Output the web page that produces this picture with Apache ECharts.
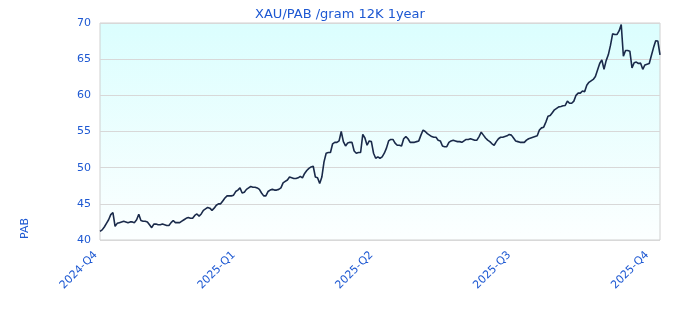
<!DOCTYPE html>
<html>
<head>
<meta charset="utf-8">
<script src="https://cdn.jsdelivr.net/npm/echarts@6/dist/echarts.min.js"></script>
<style>html,body{margin:0;padding:0;background:#fff}#c{width:680px;height:320px}</style>
</head>
<body>
<div id="c"></div>
<script>
var titleText = 'XAU/PAB /gram 12K 1year';
var yAxisName = 'PAB';
var tickLabels = ['2024-Q4', '2025-Q1', '2025-Q2', '2025-Q3', '2025-Q4'];
var labelEvery = 64;
var prices = [
41.2,41.4,41.8,42.3,42.8,43.5,43.8,41.9,42.3,42.4,
42.5,42.6,42.5,42.4,42.5,42.5,42.4,42.8,43.55,42.7,
42.6,42.6,42.5,42.1,41.7,42.2,42.2,42.1,42.1,42.2,
42.1,42.0,42.0,42.4,42.7,42.4,42.4,42.4,42.6,42.8,
43.0,43.1,43.0,43.0,43.4,43.6,43.3,43.6,44.1,44.3,
44.5,44.4,44.1,44.4,44.8,45.0,45.0,45.4,45.8,46.1,
46.1,46.1,46.2,46.7,46.9,47.2,46.5,46.6,47.0,47.2,
47.4,47.3,47.3,47.2,47.0,46.5,46.1,46.1,46.7,46.9,
47.0,46.9,46.9,47.0,47.2,47.9,48.1,48.3,48.7,48.6,
48.5,48.5,48.6,48.8,48.6,49.2,49.6,49.9,50.1,50.2,
48.7,48.6,47.8,48.7,50.8,52.0,52.1,52.1,53.3,53.5,
53.5,53.7,55.0,53.6,53.0,53.4,53.5,53.5,52.3,52.0,
52.1,52.1,54.6,54.1,53.1,53.7,53.6,52.0,51.3,51.5,
51.3,51.5,52.0,52.7,53.7,53.9,53.9,53.4,53.1,53.1,
53.0,54.0,54.3,54.0,53.5,53.5,53.5,53.6,53.7,54.5,
55.2,55.0,54.7,54.5,54.3,54.2,54.2,53.8,53.7,53.0,
52.9,52.9,53.5,53.7,53.8,53.7,53.6,53.6,53.5,53.7,
53.9,53.9,54.0,53.9,53.8,53.8,54.3,54.9,54.5,54.1,
53.8,53.6,53.3,53.1,53.6,54.0,54.2,54.2,54.3,54.4,
54.6,54.5,54.1,53.7,53.6,53.5,53.5,53.5,53.8,54.0,
54.1,54.2,54.3,54.4,55.2,55.5,55.6,56.3,57.1,57.2,
57.6,58.0,58.2,58.4,58.45,58.55,58.6,59.2,58.9,58.9,
59.2,60.0,60.3,60.3,60.6,60.5,61.4,61.8,62.0,62.2,
62.6,63.5,64.4,64.9,63.6,64.8,65.6,66.9,68.5,68.4,
68.4,68.9,69.8,65.4,66.2,66.2,66.1,63.8,64.5,64.6,
64.4,64.45,63.6,64.2,64.3,64.4,65.5,66.6,67.55,67.5,
65.6
];
var categories = prices.map(function (v, i) { return String(i); });

var blue = '#1d58d2';
var chart = echarts.init(document.getElementById('c'), null, {renderer: 'canvas'});
chart.setOption({
  animation: false,
  textStyle: {fontFamily: 'DejaVu Sans'},
  title: {
    text: titleText, left: 'center', top: 3,
    textStyle: {color: blue, fontSize: 13, fontWeight: 'normal', fontFamily: 'DejaVu Sans'}
  },
  graphic: [{
    type: 'text', x: 20, y: 239, rotation: Math.PI / 2,
    style: {text: yAxisName, fill: blue, font: '11px "DejaVu Sans"', textAlign: 'left', textVerticalAlign: 'top'}
  }],
  grid: {
    left: 100, top: 23, right: 20, bottom: 80, show: true,
    borderColor: '#d0d0d0', borderWidth: 1,
    backgroundColor: new echarts.graphic.LinearGradient(0, 0, 0, 1, [
      {offset: 0, color: '#dbfefe'}, {offset: 1, color: '#fcffff'}
    ])
  },
  xAxis: {
    type: 'category', data: categories, boundaryGap: false,
    axisLine: {show: false}, axisTick: {show: false},
    splitLine: {show: false},
    axisLabel: {
      color: blue, fontSize: 11, rotate: 45, margin: 9, padding: [0, 6, 0, 0],
      interval: function (i) { return i % labelEvery === 0; },
      formatter: function (v, i) { return tickLabels[i / labelEvery] || ''; }
    }
  },
  yAxis: {
    type: 'value', min: 40, max: 70, interval: 5,
    axisLine: {show: false}, axisTick: {show: false},
    axisLabel: {color: blue, fontSize: 11, margin: 9},
    splitLine: {lineStyle: {color: '#d8d8d8', width: 1}}
  },
  series: [{
    type: 'line', data: prices, showSymbol: false, symbol: 'none',
    lineStyle: {color: '#1a2a4a', width: 1.6}
  }]
});
</script>
</body>
</html>
